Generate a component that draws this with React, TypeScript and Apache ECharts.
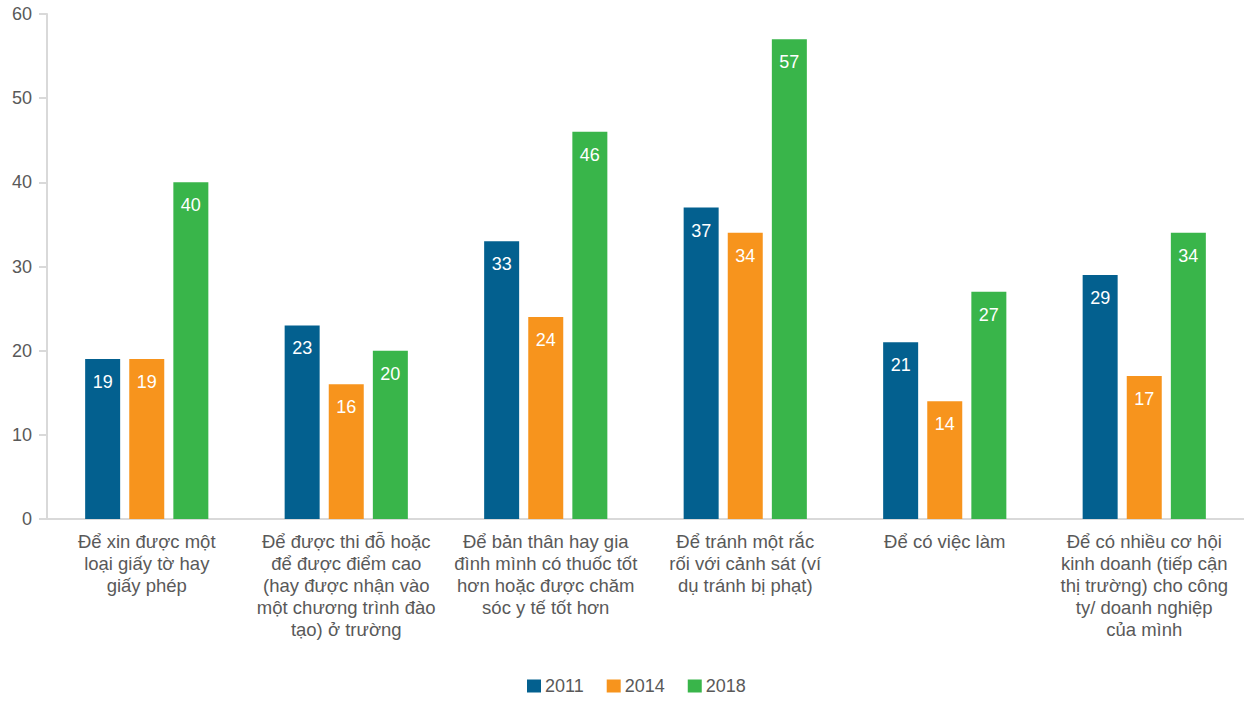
import React, { useEffect, useRef } from "react";
import * as echarts from "echarts";

const categories = [
  "Để xin được một\nloại giấy tờ hay\ngiấy phép",
  "Để được thi đỗ hoặc\nđể được điểm cao\n(hay được nhận vào\nmột chương trình đào\ntạo) ở trường",
  "Để bản thân hay gia\nđình mình có thuốc tốt\nhơn hoặc được chăm\nsóc y tế tốt hơn",
  "Để tránh một rắc\nrối với cảnh sát (ví\ndụ tránh bị phạt)",
  "Để có việc làm",
  "Để có nhiều cơ hội\nkinh doanh (tiếp cận\nthị trường) cho công\nty/ doanh nghiệp\ncủa mình",
];
const values2011 = [19, 23, 33, 37, 21, 29];
const values2014 = [19, 16, 24, 34, 14, 17];
const values2018 = [40, 20, 46, 57, 27, 34];
const seriesNames = ["2011", "2014", "2018"];
const colors = ["#03608f", "#f7941d", "#39b54a"];

const FONT = "'Liberation Sans', Arial, sans-serif";

export default function App() {
  const ref = useRef<HTMLDivElement>(null);
  useEffect(() => {
    if (!ref.current) return;
    const chart = echarts.init(ref.current, undefined, { renderer: "svg" });
    const data = [values2011, values2014, values2018];
    chart.setOption({
      animation: false,
      textStyle: { fontFamily: FONT },
      grid: { left: 47, width: 1205, top: 14, height: 505, containLabel: false },
      legend: {
        data: seriesNames,
        bottom: 1,
        left: 522,
        icon: "rect",
        itemWidth: 14,
        itemHeight: 13,
        itemGap: 23,
        textStyle: { fontSize: 18, color: "#595959", fontFamily: FONT, padding: [0, 0, 0, -1] },
      },
      xAxis: {
        type: "category",
        data: categories,
        axisLine: { show: true, lineStyle: { color: "#d9d9d9", width: 2 } },
        axisTick: { show: false },
        axisLabel: {
          interval: 0,
          margin: 11,
          fontSize: 18.5,
          lineHeight: 22,
          color: "#595959",
          fontFamily: FONT,
          align: "center",
        },
      },
      yAxis: {
        type: "value",
        min: 0,
        max: 60,
        interval: 10,
        splitLine: { show: false },
        axisLine: { show: true, lineStyle: { color: "#d9d9d9", width: 2 } },
        axisTick: { show: true, length: 8, lineStyle: { color: "#d9d9d9", width: 2 } },
        axisLabel: { fontSize: 18, color: "#595959", margin: 15, fontFamily: FONT },
      },
      series: seriesNames.map((name, i) => ({
        name,
        type: "bar",
        data: data[i],
        barWidth: 35,
        barGap: "26%",
        itemStyle: { color: colors[i] },
        label: {
          show: true,
          position: "insideTop",
          distance: 14,
          color: "#ffffff",
          fontSize: 18,
          fontFamily: FONT,
        },
      })),
    });
    return () => chart.dispose();
  }, []);
  return <div ref={ref} style={{ width: 1244, height: 701, position: "absolute", left: 0, top: 0 }} />;
}
